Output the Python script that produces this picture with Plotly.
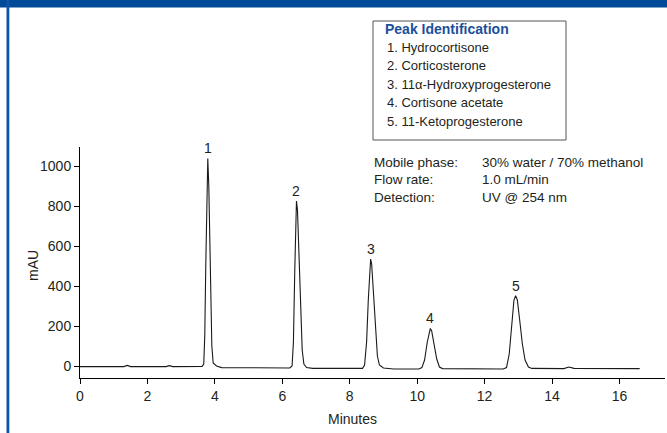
import plotly.graph_objects as go

# chromatogram trace (minutes, mAU)
time_min = [0.0, 1.3, 1.4, 1.5, 2.55, 2.65, 2.75, 3.62, 3.67, 3.70, 3.73, 3.76, 3.79,
            3.82, 3.85, 3.88, 3.91, 3.95, 4.05, 4.2,
            6.22, 6.29, 6.33, 6.37, 6.40, 6.42, 6.45, 6.49, 6.54, 6.59, 6.64, 6.72, 6.9,
            8.38, 8.44, 8.50, 8.55, 8.59, 8.62, 8.65, 8.70, 8.76, 8.82, 8.88, 9.0, 9.3,
            10.05, 10.14, 10.22, 10.30, 10.36, 10.39, 10.43, 10.50, 10.58, 10.66, 10.75,
            12.55, 12.65, 12.73, 12.80, 12.87, 12.92, 12.97, 13.04, 13.12, 13.20, 13.30, 13.40,
            14.35, 14.5, 14.65, 16.6]
signal_mau = [-3, -3, 3, -3, -3, 2, -3, -2, 10, 150, 500, 880, 1038,
              900, 600, 300, 100, 15, 0, -8,
              -10, 0, 120, 480, 760, 825, 780, 560, 260, 80, 10, -8, -12,
              -12, 5, 120, 330, 500, 535, 510, 380, 180, 50, 5, -10, -15,
              -15, -8, 30, 120, 180, 188, 175, 110, 35, -5, -13,
              -15, -8, 60, 200, 330, 352, 330, 230, 110, 30, -5, -12,
              -13, -5, -12, -13]

peak_times = [3.79, 6.42, 8.62, 10.39, 12.92]
peak_heights = [1038, 825, 535, 188, 352]
peak_labels = ["1", "2", "3", "4", "5"]

compounds = ["1. Hydrocortisone", "2. Corticosterone", "3. 11α-Hydroxyprogesterone",
             "4. Cortisone acetate", "5. 11-Ketoprogesterone"]
conditions = [("Mobile phase:", "30% water / 70% methanol"),
              ("Flow rate:", "1.0 mL/min"),
              ("Detection:", "UV @ 254 nm")]

W, H = 667, 433
L, R, T, B = 80, 2, 147, 55
BLUE = "#004a98"
INK = "#231f20"
FONT = "Liberation Sans, Arial, sans-serif"


def px(x):  # page pixel -> paper x
    return (x - L) / (W - L - R)


def py(y):  # page pixel -> paper y
    return (H - B - y) / (H - T - B)


fig = go.Figure(go.Scatter(
    x=time_min, y=signal_mau, mode="lines",
    line=dict(color="#1a1a1a", width=1.1), hoverinfo="x+y"
))

ann = []
for t, h, lab in zip(peak_times, peak_heights, peak_labels):
    ann.append(dict(x=t, y=h, text=lab, showarrow=False, yanchor="bottom", yshift=0,
                    font=dict(family=FONT, size=14, color=INK)))

# peak identification box
ann.append(dict(xref="paper", yref="paper", x=px(383), y=py(29), text="<b>Peak Identification</b>",
                showarrow=False, xanchor="left", yanchor="middle",
                font=dict(family=FONT, size=14, color="#1b4f9c")))
for i, c in enumerate(compounds):
    ann.append(dict(xref="paper", yref="paper", x=px(385), y=py(47 + i * 18.6), text=c,
                    showarrow=False, xanchor="left", yanchor="middle",
                    font=dict(family=FONT, size=13, color=INK)))

for i, (k, v) in enumerate(conditions):
    yy = py(162 + i * 17.5)
    ann.append(dict(xref="paper", yref="paper", x=px(372), y=yy, text=k, showarrow=False,
                    xanchor="left", yanchor="middle", font=dict(family=FONT, size=13.5, color=INK)))
    ann.append(dict(xref="paper", yref="paper", x=px(480), y=yy, text=v, showarrow=False,
                    xanchor="left", yanchor="middle", font=dict(family=FONT, size=13.5, color=INK)))

# axis titles
ann.append(dict(xref="paper", yref="paper", x=px(352), y=py(419), text="Minutes", showarrow=False,
                xanchor="center", yanchor="middle", font=dict(family=FONT, size=14, color=INK)))
ann.append(dict(xref="paper", yref="paper", x=px(33), y=py(266), text="mAU", showarrow=False,
                xanchor="center", yanchor="middle", textangle=-90,
                font=dict(family=FONT, size=14, color=INK)))

shapes = [
    dict(type="rect", xref="paper", yref="paper", x0=px(373), x1=px(566), y0=py(140), y1=py(21),
         line=dict(color="#555555", width=1), fillcolor="white", layer="below"),
    # blue frame: top bar and left rule
    dict(type="rect", xref="paper", yref="paper", x0=px(0), x1=px(W), y0=py(7.5), y1=py(-2),
         line=dict(width=0), fillcolor=BLUE),
    dict(type="rect", xref="paper", yref="paper", x0=px(6.5), x1=px(9.3), y0=py(H + 2), y1=py(0),
         line=dict(width=0), fillcolor="#0d55a8"),
]

axis_common = dict(showgrid=False, zeroline=False, showline=True, linecolor="black", linewidth=1,
                   ticks="outside", ticklen=5, tickcolor="black",
                   tickfont=dict(family=FONT, size=14, color=INK))

fig.update_layout(
    width=W, height=H, margin=dict(l=L, r=R, t=T, b=B),
    paper_bgcolor="white", plot_bgcolor="white", showlegend=False,
    xaxis=dict(range=[0, 17.35], tickvals=[0, 2, 4, 6, 8, 10, 12, 14, 16], **axis_common),
    yaxis=dict(range=[-60, 1095], tickvals=[0, 200, 400, 600, 800, 1000], **axis_common),
    annotations=ann, shapes=shapes,
)

fig.write_html("out.html", config={"displayModeBar": False},
               post_script="document.body.style.margin='0';")
